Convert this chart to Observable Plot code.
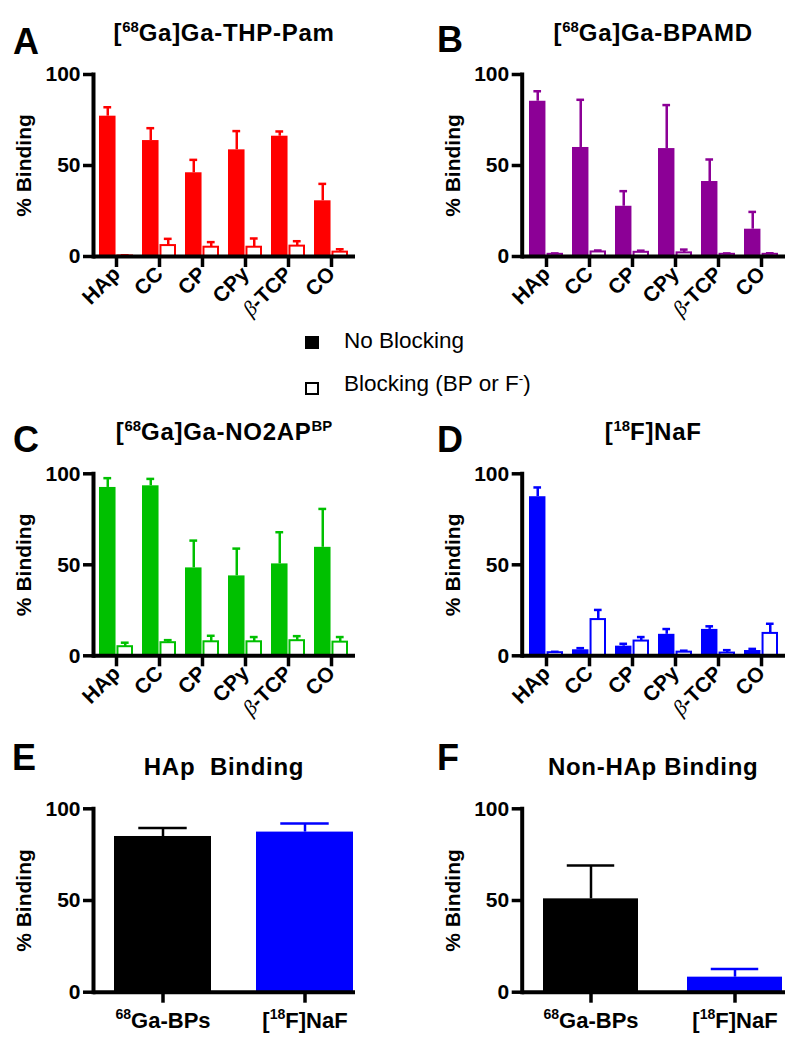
<!DOCTYPE html>
<html><head><meta charset="utf-8">
<script src="https://cdn.jsdelivr.net/npm/d3@7"></script>
<script src="https://cdn.jsdelivr.net/npm/@observablehq/plot@0.6"></script>
<style>
body{margin:0;background:#fff;}
#root{position:relative;width:800px;height:1044px;font-family:"Liberation Sans",Arial,sans-serif;color:#000;overflow:hidden;}
.abs{position:absolute;}
.letter{font-weight:bold;font-size:36px;line-height:1;}
.title{font-weight:bold;font-size:24px;line-height:1;text-align:center;white-space:nowrap;letter-spacing:0.7px;}
.title sup{font-size:0.62em;line-height:0;position:relative;top:-0.05em;vertical-align:0.55em;letter-spacing:0;}
.leg{font-size:22.5px;line-height:1;white-space:nowrap;}
.leg sup{font-size:0.6em;line-height:0;vertical-align:0.6em;}
</style></head><body><div id="root"></div>
<script>
// ---------- data ----------
const categories = ["HAp", "CC", "CP", "CPy", "β-TCP", "CO"];

// A: [68Ga]Ga-THP-Pam
const thpNoBlock   = [77.1, 63.7, 46.0, 58.6, 66.1, 30.6];
const thpNoBlockSD = [4.9, 6.8, 7.1, 10.3, 2.6, 9.3];
const thpBlock     = [0.3, 6.0, 5.1, 5.1, 5.7, 2.4];
const thpBlockSD   = [0.4, 3.7, 2.8, 4.8, 2.7, 1.6];

// B: [68Ga]Ga-BPAMD
const bpamdNoBlock   = [85.3, 59.9, 27.6, 59.3, 41.2, 15.0];
const bpamdNoBlockSD = [5.5, 26.2, 8.3, 23.9, 12.1, 9.5];
const bpamdBlock     = [1.2, 2.5, 2.3, 2.0, 1.2, 1.2];
const bpamdBlockSD   = [0.5, 0.8, 0.9, 1.8, 0.5, 0.6];

// C: [68Ga]Ga-NO2AP^BP
const no2apNoBlock   = [92.5, 93.4, 48.3, 43.9, 50.5, 59.6];
const no2apNoBlockSD = [5.1, 3.8, 15.0, 15.0, 17.4, 21.1];
const no2apBlock     = [5.0, 7.2, 7.7, 7.7, 8.3, 7.5];
const no2apBlockSD   = [2.2, 1.4, 3.3, 2.6, 2.5, 2.8];

// D: [18F]NaF
const nafNoBlock   = [87.4, 3.3, 5.3, 11.8, 14.5, 2.9];
const nafNoBlockSD = [5.1, 0.9, 1.3, 2.9, 1.7, 0.9];
const nafBlock     = [1.7, 19.9, 8.1, 2.0, 1.5, 12.3];
const nafBlockSD   = [0.5, 5.3, 2.2, 0.8, 1.6, 5.3];

// E / F
const groupsEF = ["^{68}Ga-BPs", "[^{18}F]NaF"];
const hapValues = [84.9, 87.3];
const hapSD     = [4.6, 4.7];
const nonHapValues = [50.9, 8.2];
const nonHapSD     = [18.2, 4.5];

const yTicks = [0, 50, 100];

// ---------- helpers ----------
const FONT = '"Liberation Sans", Arial, sans-serif';
const root = document.getElementById("root");

function place(node, left, top) {
  const d = document.createElement("div");
  d.className = "abs";
  d.style.left = left + "px";
  d.style.top = top + "px";
  d.appendChild(node);
  root.appendChild(d);
  return d;
}
function html(htmlStr, cls, left, top, extra) {
  const d = document.createElement("div");
  d.className = "abs " + cls;
  d.style.left = left + "px";
  d.style.top = top + "px";
  if (extra) Object.assign(d.style, extra);
  d.innerHTML = htmlStr;
  root.appendChild(d);
  return d;
}

// turn "^{68}" into superscripts and β into a serif glyph inside svg text
function richify(svg) {
  const NS = "http://www.w3.org/2000/svg";
  svg.querySelectorAll("text").forEach(t => {
    const s = t.textContent;
    if (!s.includes("^{") && !s.includes("β")) return;
    const fs = parseFloat(t.getAttribute("font-size")) || parseFloat(t.parentNode.getAttribute("font-size")) || 21;
    const parts = [];
    const re = /\^\{([^}]*)\}|β/g;
    let last = 0, m;
    while ((m = re.exec(s))) {
      if (m.index > last) parts.push({t: s.slice(last, m.index)});
      if (m[0] === "β") parts.push({t: "β", greek: true});
      else parts.push({t: m[1], sup: true});
      last = re.lastIndex;
    }
    if (last < s.length) parts.push({t: s.slice(last)});
    while (t.firstChild) t.removeChild(t.firstChild);
    let shifted = 0;
    parts.forEach(p => {
      const ts = document.createElementNS(NS, "tspan");
      ts.textContent = p.t;
      if (p.sup) {
        ts.setAttribute("font-size", (fs * 0.64).toFixed(1));
        ts.setAttribute("dy", (-fs * 0.42).toFixed(1));
        shifted = fs * 0.42;
      } else {
        if (shifted) { ts.setAttribute("dy", shifted.toFixed(1)); shifted = 0; }
        if (p.greek) {
          ts.setAttribute("font-family", '"Liberation Serif", "DejaVu Serif", serif');
          ts.setAttribute("font-weight", "normal");
          ts.setAttribute("font-style", "italic");
        }
      }
      t.appendChild(ts);
    });
  });
}

const axisStyle = {fontFamily: FONT, fontSize: "21px", fontWeight: "bold", color: "black", background: "transparent", overflow: "visible"};

function groupedPanel(cfg) {
  const {noBlock, noSD, block, blSD, color, marginLeft, marginRight, marginTop} = cfg;
  const rows = categories.map((c, i) => ({cat: c, nb: noBlock[i], nbSD: noSD[i], bl: block[i], blSD: blSD[i]}));
  const W = 400, H = 310, plotH = 182;
  const pi = 0.2, po = 0.1;
  const plotW = W - marginLeft - marginRight;
  const step = plotW / (categories.length - pi + 2 * po);
  const bw = step * (1 - pi);
  const svg = Plot.plot({
    width: W, height: H, marginLeft, marginRight, marginTop, marginBottom: H - marginTop - plotH,
    style: axisStyle,
    x: {domain: categories, paddingInner: pi, paddingOuter: po},
    y: {domain: [0, 100]},
    marks: [
      Plot.barY(rows, {x: "cat", y: "nb", fill: color, insetRight: bw / 2}),
      Plot.ruleX(rows, {x: "cat", y1: "nb", y2: d => d.nb + d.nbSD, stroke: color, strokeWidth: 2.5, dx: -bw / 4}),
      Plot.tickY(rows, {x: "cat", y: d => d.nb + d.nbSD, stroke: color, strokeWidth: 2.5, insetLeft: bw / 8, insetRight: 5 * bw / 8}),
      Plot.barY(rows, {x: "cat", y: "bl", fill: "white", stroke: color, strokeWidth: 2, insetLeft: bw / 2 + 1, insetRight: 1}),
      Plot.ruleX(rows, {x: "cat", y1: "bl", y2: d => d.bl + d.blSD, stroke: color, strokeWidth: 2.5, dx: bw / 4}),
      Plot.tickY(rows, {x: "cat", y: d => d.bl + d.blSD, stroke: color, strokeWidth: 2.5, insetLeft: 5 * bw / 8, insetRight: bw / 8}),
      Plot.ruleY([0], {stroke: "black", strokeWidth: 4}),
      Plot.frame({anchor: "left", stroke: "black", strokeWidth: 4}),
      Plot.axisY({ticks: yTicks, tickSize: 10, tickPadding: 3, strokeWidth: 3.5, fontSize: 21, label: "% Binding", labelAnchor: "center", labelOffset: 77, labelArrow: "none"}),
      Plot.axisX({tickSize: 11, tickPadding: 3, tickRotate: -45, strokeWidth: 3.5, fontSize: 21, label: null})
    ]
  });
  richify(svg);
  return svg;
}

function singlePanel(cfg) {
  const {values, sds, marginLeft, marginRight, marginTop, pi, po, align} = cfg;
  const rows = groupsEF.map((g, i) => ({grp: g, v: values[i], sd: sds[i]}));
  const W = 400, H = 307, plotH = 183.4;
  const plotW = W - marginLeft - marginRight;
  const step = plotW / (groupsEF.length - pi + 2 * po);
  const bw = step * (1 - pi);
  const svg = Plot.plot({
    width: W, height: H, marginLeft, marginRight, marginTop, marginBottom: H - marginTop - plotH,
    style: axisStyle,
    x: {domain: groupsEF, paddingInner: pi, paddingOuter: po, align},
    y: {domain: [0, 100]},
    color: {domain: groupsEF, range: ["#000000", "#0000ff"]},
    marks: [
      Plot.barY(rows, {x: "grp", y: "v", fill: "grp"}),
      Plot.ruleX(rows, {x: "grp", y1: "v", y2: d => d.v + d.sd, stroke: "grp", strokeWidth: 2.5}),
      Plot.tickY(rows, {x: "grp", y: d => d.v + d.sd, stroke: "grp", strokeWidth: 2.5, insetLeft: bw / 4, insetRight: bw / 4}),
      Plot.ruleY([0], {stroke: "black", strokeWidth: 4}),
      Plot.frame({anchor: "left", stroke: "black", strokeWidth: 4}),
      Plot.axisY({ticks: yTicks, tickSize: 10, tickPadding: 3, strokeWidth: 3.5, fontSize: 21, label: "% Binding", labelAnchor: "center", labelOffset: 77, labelArrow: "none"}),
      Plot.axisX({tickSize: 11, tickPadding: 9, strokeWidth: 3.5, label: null, fontSize: 22})
    ]
  });
  richify(svg);
  return svg;
}

// ---------- panels ----------
place(groupedPanel({noBlock: thpNoBlock, noSD: thpNoBlockSD, block: thpBlock, blSD: thpBlockSD, color: "#ff0000",
  marginLeft: 93, marginRight: 45, marginTop: 74}), 0, 0);
place(groupedPanel({noBlock: bpamdNoBlock, noSD: bpamdNoBlockSD, block: bpamdBlock, blSD: bpamdBlockSD, color: "#8c0096",
  marginLeft: 121.7, marginRight: 15, marginTop: 74}), 400, 0);
place(groupedPanel({noBlock: no2apNoBlock, noSD: no2apNoBlockSD, block: no2apBlock, blSD: no2apBlockSD, color: "#00c000",
  marginLeft: 93, marginRight: 45, marginTop: 73.3}), 0, 400);
place(groupedPanel({noBlock: nafNoBlock, noSD: nafNoBlockSD, block: nafBlock, blSD: nafBlockSD, color: "#0000ff",
  marginLeft: 121.7, marginRight: 15, marginTop: 73.3}), 400, 400);
place(singlePanel({values: hapValues, sds: hapSD, marginLeft: 93, marginRight: 45, marginTop: 73.3,
  pi: 0.32, po: 0.077, align: 0.91}), 0, 735);
place(singlePanel({values: nonHapValues, sds: nonHapSD, marginLeft: 121.7, marginRight: 15, marginTop: 73.3,
  pi: 0.34, po: 0.084, align: 0.88}), 400, 735);

// ---------- titles & letters ----------
const titles = [
  {t: "[<sup>68</sup>Ga]Ga-THP-Pam", left: 93, w: 262, top: 21},
  {t: "[<sup>68</sup>Ga]Ga-BPAMD", left: 521.7, w: 263, top: 21},
  {t: "[<sup>68</sup>Ga]Ga-NO2AP<sup>BP</sup>", left: 93, w: 262, top: 420},
  {t: "[<sup>18</sup>F]NaF", left: 521.7, w: 263, top: 420},
  {t: "HAp&nbsp; Binding", left: 93, w: 262, top: 755},
  {t: "Non-HAp Binding", left: 521.7, w: 263, top: 755}
];
titles.forEach(d => html(d.t, "title", d.left, d.top, {width: d.w + "px"}));

const letters = [
  {t: "A", left: 13, top: 23.5}, {t: "B", left: 437, top: 21.5},
  {t: "C", left: 13, top: 421.5}, {t: "D", left: 437, top: 421.5},
  {t: "E", left: 12, top: 739.5}, {t: "F", left: 437, top: 739.5}
];
letters.forEach(d => html(d.t, "letter", d.left, d.top));

// ---------- legend ----------
html("", "", 305, 336, {width: "14px", height: "13px", background: "#000"});
html("", "", 305, 382, {width: "10px", height: "9px", border: "2px solid #000", background: "#fff"});
html("No Blocking", "leg", 344, 330);
html("Blocking (BP or F<sup>-</sup>)", "leg", 344, 373);
</script>
</body></html>
